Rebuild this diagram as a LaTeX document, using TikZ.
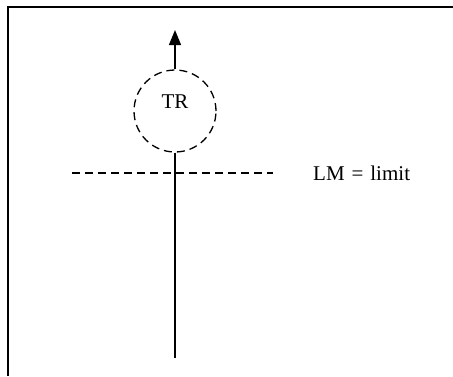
\documentclass[tikz,border=0pt]{standalone}
\usepackage{fontspec}
\setmainfont{Liberation Serif}
\usetikzlibrary{arrows.meta, positioning}

\begin{document}
\begin{tikzpicture}[
    x=1pt, y=-1pt, >={Triangle[width=12pt, length=15pt]},
    font=\fontsize{21}{24}\selectfont
  ]
  \useasboundingbox (0,0) rectangle (453,376);
  \draw[line width=1.8pt] (453,7) -- (8,7) -- (8,376);

  \node[draw, circle, dash pattern=on 8pt off 5pt, line width=1.3pt,
        minimum size=82pt, inner sep=0pt] (tr) at (175,111) {};
  \node[inner sep=0pt] (trtext) at (175,102) {TR};
  \coordinate (tip) at (175,30);
  \coordinate (foot) at (175,358);
  \draw[->, line width=1.3pt] (tr.north) -- (tip);
  \draw[line width=1.3pt] (tr.south) -- (foot);

  \coordinate (limleft) at (72,173);
  \coordinate (limright) at (273,173);
  \draw[dash pattern=on 8pt off 5pt, line width=1.3pt] (limleft) -- (limright);
  \node[right=40pt of limright, inner sep=0pt] (lm)
    {LM\hspace{0.33em}=\hspace{0.33em}limit};
\end{tikzpicture}
\end{document}
